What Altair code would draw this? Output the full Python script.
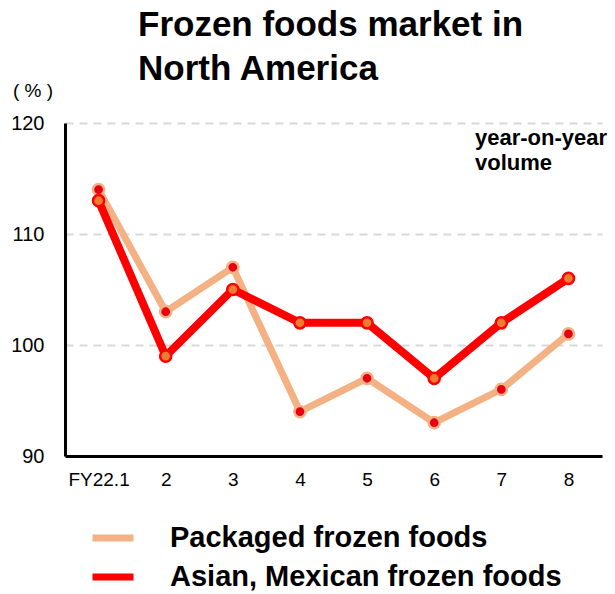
import altair as alt
import pandas as pd

# ---- data ----
months = ["FY22.1", "2", "3", "4", "5", "6", "7", "8"]
packaged = [114, 103, 107, 94, 97, 93, 96, 101]
asian = [113, 99, 105, 102, 102, 97, 102, 106]
series_names = ["Packaged frozen foods", "Asian, Mexican frozen foods"]
y_ticks = [90, 100, 110, 120]

title_lines = ["Frozen foods market in", "North America"]
unit_label = "( % )"
note_lines = ["year-on-year", "volume"]

# ---- styles ----
FONT = "Liberation Sans"
line_colors = ["#F4B183", "#FF0000"]
dot_fill = ["#E60012", "#ED7D31"]

df = pd.DataFrame({
    "month": months * 2,
    "value": packaged + asian,
    "series": [series_names[0]] * len(months) + [series_names[1]] * len(months),
})

x_enc = alt.X("month:N", sort=months,
              scale=alt.Scale(type="point", padding=0.5),
              axis=alt.Axis(title=None, labelAngle=0, labelFontSize=19, labelFont=FONT,
                            labelColor="black", ticks=False, tickSize=0, labelPadding=14,
                            domainColor="black", domainWidth=3, grid=False))
y_enc = alt.Y("value:Q", scale=alt.Scale(domain=[90, 120], nice=False, zero=False),
              axis=alt.Axis(title=None, values=y_ticks, labelFontSize=20, labelFont=FONT,
                            labelColor="black", ticks=False, tickSize=0, labelPadding=21,
                            domainColor="black", domainWidth=3, grid=True,
                            gridDash=[8, 6], gridColor="#d9d9d9", gridWidth=2))

color_enc = alt.Color("series:N", scale=alt.Scale(domain=series_names, range=line_colors),
                      legend=alt.Legend(title=None, orient="none", legendX=24, legendY=391,
                                        symbolType="stroke", symbolStrokeWidth=7,
                                        symbolSize=1681, labelFontSize=29,
                                        labelFontWeight="bold", labelFont=FONT,
                                        labelColor="black", labelOffset=33,
                                        labelLimit=600, rowPadding=-2))
fill_enc = alt.Fill("series:N", scale=alt.Scale(domain=series_names, range=dot_fill), legend=None)
stroke_enc = alt.Stroke("series:N", scale=alt.Scale(domain=series_names, range=line_colors), legend=None)

base = alt.Chart(df)

layers = []
for name, sw in zip(series_names, [7, 8]):
    sub = base.transform_filter(alt.datum.series == name)
    layers.append(sub.mark_line(strokeWidth=sw).encode(x=x_enc, y=y_enc, color=color_enc))
    layers.append(sub.mark_point(filled=True, size=125, strokeWidth=2.5, opacity=1)
                  .encode(x=x_enc, y=y_enc, fill=fill_enc, stroke=stroke_enc))

title_text = alt.Chart(pd.DataFrame({"t": ["\n".join(title_lines)]})).mark_text(
    align="left", baseline="alphabetic", fontSize=35, fontWeight="bold", font=FONT,
    lineBreak="\n", lineHeight=44, color="black"
).encode(text="t:N", x=alt.value(73), y=alt.value(-87))

unit_text = alt.Chart(pd.DataFrame({"t": [unit_label]})).mark_text(
    align="left", baseline="alphabetic", fontSize=19, font=FONT, color="black"
).encode(text="t:N", x=alt.value(-52), y=alt.value(-26))

note_text = alt.Chart(pd.DataFrame({"t": ["\n".join(note_lines)]})).mark_text(
    align="left", baseline="alphabetic", fontSize=22, fontWeight="bold", font=FONT,
    lineBreak="\n", lineHeight=25, color="black"
).encode(text="t:N", x=alt.value(410), y=alt.value(22))

chart = alt.layer(*layers, title_text, unit_text, note_text).properties(
    width=537, height=333,
    autosize=alt.AutoSizeParams(type="none"),
    padding={"left": 65, "top": 123, "right": 13, "bottom": 138},
    background="white",
).configure_view(stroke=None)

chart.save("out.html", embed_options={"renderer": "svg", "actions": False})
